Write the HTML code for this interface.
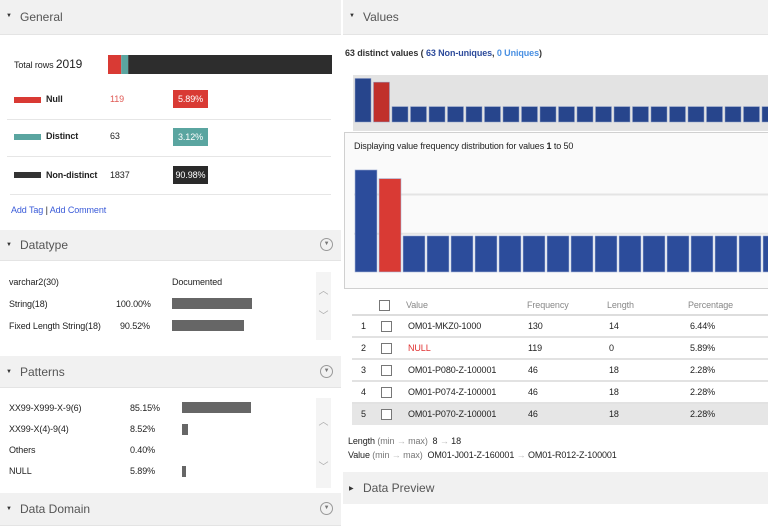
<!DOCTYPE html>
<html><head><meta charset="utf-8">
<style>
*{box-sizing:border-box;margin:0;padding:0}
body{width:768px;height:530px;position:relative;overflow:hidden;background:#fff;font-family:"Liberation Sans",Arial,sans-serif;font-size:9px;color:#222;letter-spacing:-0.1px}
.a{position:absolute;white-space:nowrap}
.hdr{position:absolute;background:#f1f1f1;border-bottom:1px solid #e4e4e4}
.hdr .t{position:absolute;left:20px;font-size:12px;color:#555;letter-spacing:0}
.hdr .tri{position:absolute;left:6px;font-size:6px;color:#333}
.circ{position:absolute;right:8px;width:13px;height:13px;border:1px solid #999;border-radius:50%;font-size:6px;color:#777;text-align:center;line-height:11px}
.sep{position:absolute;height:1px;background:#e6e6e6}
.badge{position:absolute;width:35px;height:18px;color:#fff;font-size:9px;text-align:center;line-height:18px}
.gbar{position:absolute;background:#666;height:11px}
.scr{position:absolute;background:#f4f4f4;color:#aaa;font-size:10px;text-align:center}
.cb{position:absolute;width:11px;height:11px;border:1px solid #777;background:#fff}
.td{position:absolute;font-size:9px}
.lk{color:#3a5bd9}
</style></head><body>

<!-- LEFT PANEL -->
<div class="hdr" style="left:0;top:0;width:341px;height:35px"><span class="tri" style="top:13px">▼</span><span class="t" style="top:10px">General</span></div>
<div class="a" style="left:14px;top:57px;font-size:9px">Total rows <span style="font-size:12px">2019</span></div>
<svg class="a" id="totalbar" style="left:108px;top:55px" width="224" height="19"></svg>

<div class="a" style="left:14px;top:97px;width:27px;height:6px;background:#d93a34"></div>
<div class="a" style="left:46px;top:94px;font-weight:bold">Null</div>
<div class="a" style="left:110px;top:94px;color:#e05a55">119</div>
<div class="badge" style="left:173px;top:90px;background:#d93a34">5.89%</div>
<div class="sep" style="left:7px;top:119px;width:324px"></div>

<div class="a" style="left:14px;top:134px;width:27px;height:6px;background:#5aa5a0"></div>
<div class="a" style="left:46px;top:131px;font-weight:bold">Distinct</div>
<div class="a" style="left:110px;top:131px">63</div>
<div class="badge" style="left:173px;top:128px;background:#5aa5a0">3.12%</div>
<div class="sep" style="left:7px;top:156px;width:324px"></div>

<div class="a" style="left:14px;top:172px;width:27px;height:6px;background:#333"></div>
<div class="a" style="left:46px;top:170px;font-weight:bold">Non-distinct</div>
<div class="a" style="left:110px;top:170px">1837</div>
<div class="badge" style="left:173px;top:166px;background:#2a2a2a">90.98%</div>
<div class="sep" style="left:10px;top:194px;width:321px"></div>

<div class="a" style="left:11px;top:205px"><span class="lk">Add Tag</span> | <span class="lk">Add Comment</span></div>

<div class="hdr" style="left:0;top:230px;width:341px;height:31px"><span class="tri" style="top:12px">▼</span><span class="t" style="top:8px">Datatype</span><span class="circ" style="top:8px">▼</span></div>
<div class="a" style="left:9px;top:277px">varchar2(30)</div>
<div class="a" style="left:172px;top:277px">Documented</div>
<div class="a" style="left:9px;top:299px">String(18)</div>
<div class="a" style="left:116px;top:299px">100.00%</div>
<div class="gbar" style="left:172px;top:298px;width:80px"></div>
<div class="a" style="left:9px;top:321px">Fixed Length String(18)</div>
<div class="a" style="left:120px;top:321px">90.52%</div>
<div class="gbar" style="left:172px;top:320px;width:72px"></div>
<div class="scr" style="left:316px;top:272px;width:15px;height:68px"><div style="margin-top:10px">︿</div><div style="margin-top:10px">﹀</div></div>

<div class="hdr" style="left:0;top:356px;width:341px;height:32px"><span class="tri" style="top:13px">▼</span><span class="t" style="top:9px">Patterns</span><span class="circ" style="top:9px">▼</span></div>
<div class="a" style="left:9px;top:403px">XX99-X999-X-9(6)</div>
<div class="a" style="left:130px;top:403px">85.15%</div>
<div class="gbar" style="left:182px;top:402px;width:69px"></div>
<div class="a" style="left:9px;top:424px">XX99-X(4)-9(4)</div>
<div class="a" style="left:130px;top:424px">8.52%</div>
<div class="gbar" style="left:182px;top:424px;width:6px"></div>
<div class="a" style="left:9px;top:445px">Others</div>
<div class="a" style="left:130px;top:445px">0.40%</div>
<div class="a" style="left:9px;top:466px">NULL</div>
<div class="a" style="left:130px;top:466px">5.89%</div>
<div class="gbar" style="left:182px;top:466px;width:4px"></div>
<div class="scr" style="left:316px;top:398px;width:15px;height:90px"><div style="margin-top:15px">︿</div><div style="margin-top:30px">﹀</div></div>

<div class="hdr" style="left:0;top:493px;width:341px;height:33px"><span class="tri" style="top:13px">▼</span><span class="t" style="top:9px">Data Domain</span><span class="circ" style="top:9px">▼</span></div>

<!-- RIGHT PANEL -->
<div class="hdr" style="left:343px;top:0;width:425px;height:35px"><span class="tri" style="top:13px">▼</span><span class="t" style="top:10px">Values</span></div>
<div class="a" style="left:345px;top:48px;font-weight:bold;color:#333">63 distinct values ( <span style="color:#2d4b9b">63 Non-uniques</span>, <span style="color:#4a90e2">0 Uniques</span>)</div>

<div class="a" style="left:353px;top:75px;width:415px;height:56px;background:#e3e3e3"></div>
<svg class="a" id="overview" style="left:353px;top:75px" width="415" height="56"></svg>

<div class="a" style="left:344px;top:132px;width:430px;height:157px;background:#fafafa;border:1px solid #d0d0d0"></div>
<div class="a" style="left:354px;top:141px">Displaying value frequency distribution for values <b>1</b> to 50</div>
<svg class="a" id="detail" style="left:354px;top:160px" width="414" height="115"></svg>

<!-- table -->
<div class="cb" style="left:379px;top:300px"></div>
<div class="td" style="left:406px;top:300px;color:#888">Value</div>
<div class="td" style="left:527px;top:300px;color:#888">Frequency</div>
<div class="td" style="left:607px;top:300px;color:#888">Length</div>
<div class="td" style="left:688px;top:300px;color:#888">Percentage</div>
<div id="tbl"></div>

<div class="a" style="left:348px;top:436px;color:#222">Length <span style="color:#777">(min <span style="color:#bbb">→</span> max)</span>&nbsp; 8 <span style="color:#bbb">→</span> 18</div>
<div class="a" style="left:348px;top:450px;color:#222">Value <span style="color:#777">(min <span style="color:#bbb">→</span> max)</span>&nbsp; OM01-J001-Z-160001 <span style="color:#bbb">→</span> OM01-R012-Z-100001</div>

<div class="hdr" style="left:343px;top:472px;width:425px;height:32px;border-bottom:none"><span class="tri" style="top:13px">▶</span><span class="t" style="top:9px">Data Preview</span></div>

<script>
var NS="http://www.w3.org/2000/svg";
// total rows composition
var totalParts=[119,63,1837];
var totalColors=["#d93a34","#5aa5a0","#2d2d2d"];
// value frequencies (63 distinct values)
var frequencies=[130,119,46,46,46,46,46,46,46,46,46,46,46,46,46,46,46,46,46,46,46,46,46,46,46,46,46,46,46,46,46,46,46,46,46,46,46,46,46,46,46,46,46,46,46,46,46,46,46,46,46,46,46,46,46,46,46,46,46,46,46,46,46];
var nullIndex=1;
// table rows
var rowValues=["OM01-MKZ0-1000","NULL","OM01-P080-Z-100001","OM01-P074-Z-100001","OM01-P070-Z-100001"];
var rowFreq=[130,119,46,46,46];
var rowLen=[14,0,18,18,18];
var rowPct=["6.44%","5.89%","2.28%","2.28%","2.28%"];

function rect(svg,x,y,w,h,fill,name){
  var r=document.createElementNS(NS,"rect");
  r.setAttribute("x",x);r.setAttribute("y",y);r.setAttribute("width",w);r.setAttribute("height",h);r.setAttribute("fill",fill);
  
  
  svg.appendChild(r);return r;
}
(function(){
  var svg=document.getElementById("totalbar");
  var sum=totalParts.reduce(function(a,b){return a+b},0);
  var W=224,x=0;
  var names=["total-null-segment","total-distinct-segment","total-nondistinct-segment"];
  for(var i=0;i<totalParts.length;i++){
    var w=totalParts[i]/sum*W;
    rect(svg,x,0,w,19,totalColors[i],names[i]);x+=w;
  }
})();
(function(){
  var svg=document.getElementById("overview");
  var base=47, ky=function(v){return v*0.335;};
  var step=18.5, bw=16;
  for(var i=0;i<frequencies.length;i++){
    var x=2+i*step; if(x>415) break;
    var h=ky(frequencies[i]);
    var r=rect(svg,x,base-h,bw,h,i===nullIndex?"#c0302b":"#27458c","overview-bar");
    r.setAttribute("stroke","#8fa0c8");r.setAttribute("stroke-width","0.5");
  }
})();
(function(){
  var svg=document.getElementById("detail");
  var base=112, ky=function(v){return v*0.785;};
  [ky(100),ky(50)].forEach(function(h){
    rect(svg,0,base-h,414,2,"#e4e4e4","gridline");
  });
  var step=24, bw=22;
  for(var i=0;i<50;i++){
    var x=1+i*step; if(x>414) break;
    var h=ky(frequencies[i]);
    var r=rect(svg,x,base-h,bw,h,i===nullIndex?"#d93a34":"#2c4c9b","detail-bar");
    r.setAttribute("stroke","#a8b6d8");r.setAttribute("stroke-width","0.6");
  }
})();
(function(){
  var tbl=document.getElementById("tbl");
  function div(cls,style,txt,name,inter){
    var d=document.createElement("div");d.className=cls;d.setAttribute("style",style);if(txt!=null)d.textContent=txt;
    
    
    tbl.appendChild(d);return d;
  }
  div("sep","left:352px;top:314px;width:416px;height:2px;background:#ddd",null,"table-header-line","false");
  for(var i=0;i<rowValues.length;i++){
    var y=314+i*22;
    if(i===4) div("a","left:352px;top:"+(y+2)+"px;width:416px;height:21px;background:#e6e6e6",null,"row-highlight","false");
    if(i>0) div("sep","left:352px;top:"+y+"px;width:416px;height:2px;background:#e2e2e2",null,"row-line","false");
    var ty=y+7;
    div("td","left:361px;top:"+ty+"px",String(i+1),"row-number","false");
    div("cb","left:381px;top:"+(ty)+"px",null,"row-checkbox","true");
    div("td","left:408px;top:"+ty+"px;"+(rowValues[i]==="NULL"?"color:#e03030":""),rowValues[i],"row-value","false");
    div("td","left:528px;top:"+ty+"px",String(rowFreq[i]),"row-frequency","false");
    div("td","left:609px;top:"+ty+"px",String(rowLen[i]),"row-length","false");
    div("td","left:690px;top:"+ty+"px",rowPct[i],"row-percentage","false");
  }
})();
</script>
</body></html>
